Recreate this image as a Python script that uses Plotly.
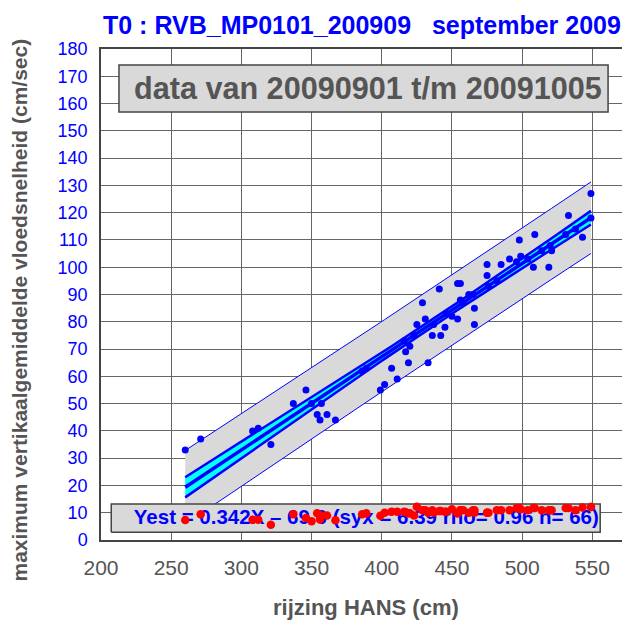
import numpy as np
import plotly.graph_objects as go

# rijzing HANS (cm) per getij
hans = [260, 271, 308, 312, 321, 337, 346, 350, 354, 356, 357, 361, 367, 386, 389,
        399, 402, 407, 411, 416, 417, 419, 420, 423, 425, 429, 431, 433, 436, 437,
        441, 442, 445, 446, 450, 454, 454, 456, 456, 458, 462, 465, 466, 466, 475,
        475, 476, 482, 485, 491, 496, 498, 499, 504, 508, 509, 514, 519, 520, 521,
        531, 533, 538, 543, 549, 549]
# maximum vertikaalgemiddelde vloedsnelheid (cm/sec)
vloed = [33, 37, 40, 41, 35, 50, 55, 50, 46, 44, 50, 46, 44, 62, 63,
         55, 57, 63, 59, 73, 69, 65, 71, 75, 79, 87, 81, 65, 75, 79,
         92, 75, 78, 83, 82, 81, 94, 94, 88, 87, 90, 90, 85, 79, 101,
         97, 93, 95, 101, 103, 102, 110, 104, 103, 100, 112, 106, 100, 108, 106,
         112, 119, 114, 111, 127, 118]
# rode punten onderin
rood = [7.3, 9.4, 7.4, 7.4, 5.6, 9.4, 8.1, 6.9, 9.8, 7.5, 9.0, 9.0, 7.2, 9.4, 9.8,
        8.9, 10.0, 10.4, 10.4, 10.4, 10.2, 9.8, 9.8, 9.0, 12.2, 10.9, 10.9, 10.0, 10.9, 10.0,
        10.6, 10.6, 10.4, 10.4, 11.3, 9.8, 9.8, 10.9, 10.9, 10.9, 10.0, 10.9, 10.9, 10.0, 10.0,
        10.0, 10.0, 10.9, 10.9, 10.9, 11.7, 11.7, 11.3, 10.9, 11.7, 11.7, 10.9, 10.9, 10.9, 10.9,
        11.7, 11.7, 10.9, 11.9, 12.1, 12.1]

slope = 0.342
intercept = -69.6
syx = 6.39
rho = 0.96
n = 66

blue = "#0000ff"
grey_txt = "#555555"
box_fill = "#d9d9d9"
font = "Liberation Sans, Arial"

x = np.array(hans, dtype=float)
xs = np.unique(x)
xm = x.mean()
sxx = ((x - xm) ** 2).sum()
fit = slope * xs + intercept
pi = 1.998 * syx * np.sqrt(1 + 1 / n + (xs - xm) ** 2 / sxx)
ci = 1.669 * syx * np.sqrt(1 / n + (xs - xm) ** 2 / sxx)

fig = go.Figure()

# voorspellingsband
fig.add_trace(go.Scatter(
    x=np.concatenate([xs, xs[::-1]]),
    y=np.concatenate([fit + pi, (fit - pi)[::-1]]),
    fill="toself", fillcolor=box_fill, line=dict(width=0), mode="lines"
))
for sgn in (1, -1):
    fig.add_trace(go.Scatter(x=xs, y=fit + sgn * pi, mode="lines",
                             line=dict(color=blue, width=1)))

# betrouwbaarheidsband
fig.add_trace(go.Scatter(
    x=np.concatenate([xs, xs[::-1]]),
    y=np.concatenate([fit + ci, (fit - ci)[::-1]]),
    fill="toself", fillcolor="#00ffff", line=dict(width=0), mode="lines"
))
for sgn in (1, -1):
    fig.add_trace(go.Scatter(x=xs, y=fit + sgn * ci, mode="lines",
                             line=dict(color=blue, width=2.5)))
fig.add_trace(go.Scatter(x=xs, y=fit, mode="lines", line=dict(color=blue, width=3.5)))

fig.add_trace(go.Scatter(x=hans, y=vloed, mode="markers",
                         marker=dict(color=blue, size=7)))

# kader met regressieformule (onder de rode punten)
bx0, bx1, by0, by1 = 207.3, 555.6, 2.8, 13.2
fig.add_trace(go.Scatter(x=[bx0, bx1, bx1, bx0, bx0], y=[by0, by0, by1, by1, by0],
                         mode="lines", fill="toself", fillcolor=box_fill,
                         line=dict(color="#444444", width=1.5)))
formule = f"Yest = {slope}X \u2013 {abs(intercept)} (syx = {syx} rho= {rho} n= {n})"
fig.add_trace(go.Scatter(x=[389], y=[7.9], mode="text", text=[formule],
                         textfont=dict(color=blue, size=20.5, family=font, weight="bold")))

fig.add_trace(go.Scatter(x=hans, y=rood, mode="markers",
                         marker=dict(color="#ff0000", size=8.5)))

fig.add_shape(type="rect", xref="x", yref="y", x0=212.8, x1=561.2, y0=156.9, y1=174.1,
              fillcolor=box_fill, line=dict(color="#444444", width=1.5), layer="above")

ann = dict(xref="paper", yref="paper", showarrow=False, xanchor="center", yanchor="middle")
fig.add_annotation(text="<b>data van 20090901 t/m 20091005</b>", x=0.5066, y=0.9206,
                   font=dict(size=30.6, color=grey_txt, family=font), **ann)
fig.add_annotation(text="<b>T0 : RVB_MP0101_200909\u00a0\u00a0 september 2009</b>",
                   x=0.496, y=1.049, font=dict(size=25, color=blue, family=font), **ann)
fig.add_annotation(text="<b>maximum vertikaalgemiddelde vloedsnelheid (cm/sec)</b>",
                   x=-0.155, y=0.468, textangle=-90,
                   font=dict(size=21, color=grey_txt, family=font), **ann)
fig.add_annotation(text="<b>rijzing HANS (cm)</b>", x=0.503, y=-0.1365,
                   font=dict(size=22, color=grey_txt, family=font), **ann)

# de pagina heeft 8px body-marge; marges zo gekozen dat het plotvlak op de juiste plek valt
fig.update_layout(
    width=630, height=625,
    margin=dict(l=93, r=8, t=41, b=93),
    paper_bgcolor="white", plot_bgcolor="white",
    showlegend=False, hovermode=False,
    font=dict(family=font),
)

fig.update_xaxes(
    range=[200, 575.4], dtick=50, tick0=200,
    showgrid=True, gridcolor="#666666", gridwidth=1,
    showline=True, linecolor="#444444", linewidth=1.5, mirror=True,
    zeroline=False, ticks="", ticklabelstandoff=8,
    tickfont=dict(size=21, color=grey_txt),
)
fig.update_yaxes(
    range=[0, 180], dtick=10,
    showgrid=True, gridcolor="#666666", gridwidth=1,
    showline=True, linecolor="#444444", linewidth=1.5, mirror=True,
    zeroline=False, ticks="", ticklabelstandoff=8,
    tickfont=dict(size=18, color=blue),
)

fig.write_html("out.html")
